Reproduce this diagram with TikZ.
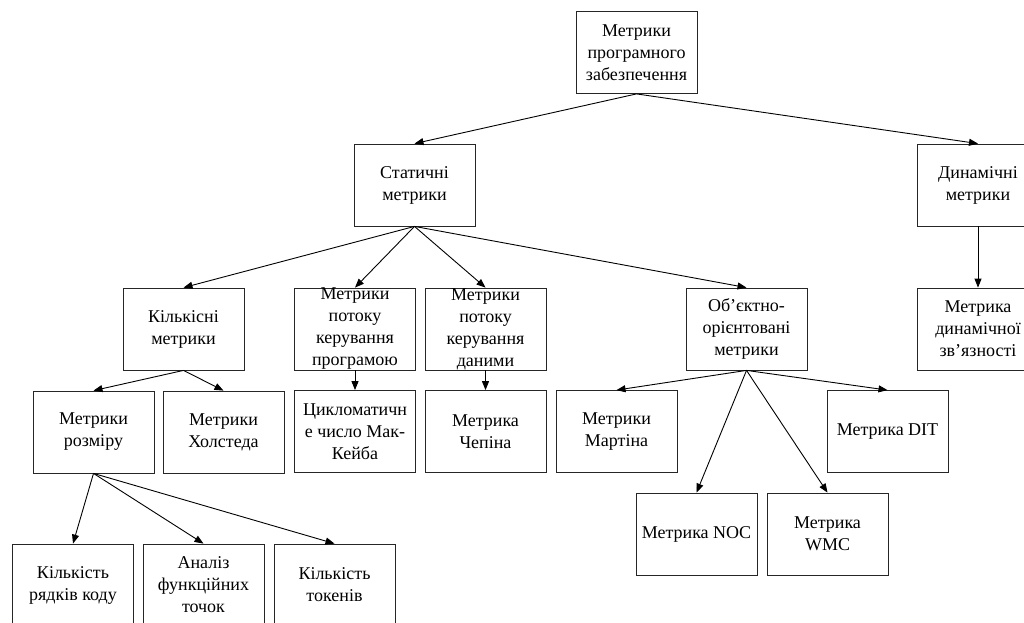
\documentclass[tikz,border=0pt]{standalone}
\usepackage{fontspec}
\setmainfont{Liberation Serif}
\usetikzlibrary{arrows.meta}
\begin{document}
\begin{tikzpicture}[x=1pt,y=-1pt,
  box/.style={draw=black!85,line width=0.8pt,rectangle,minimum width=121pt,minimum height=82pt,inner sep=0pt,align=center,font=\fontsize{18}{22}\selectfont},
  conn/.style={line width=0.9pt,-{Triangle[length=9pt,width=7pt]}}]
\useasboundingbox (0,0) rectangle (1024,622);
\fill[white] (0,0) rectangle (1024,622);
\node[box] (top) at (636.5,52.5) {Метрики\\програмного\\забезпечення};
\node[box] (stat) at (414.5,185) {Статичні\\метрики};
\node[box] (dyn) at (978,185) {Динамічні\\метрики};
\node[box] (kilk) at (183.5,329) {Кількісні\\метрики};
\node[box] (prog) at (355,329) {Метрики\\потоку\\керування\\програмою};
\node[box] (dani) at (485.5,329) {Метрики\\потоку\\керування\\даними};
\node[box] (oo) at (746.5,329) {Об’єктно-\\орієнтовані\\метрики};
\node[box] (dynz) at (978,329) {Метрика\\динамічної\\зв’язності};
\node[box] (rozm) at (93.5,432) {Метрики\\розміру};
\node[box] (hols) at (223.5,432) {Метрики\\Холстеда};
\node[box] (cycl) at (355,431.5) {Цикломатичн\\е число Мак-\\Кейба};
\node[box] (chep) at (485.5,431.5) {Метрика\\Чепіна};
\node[box] (mart) at (616.5,431.5) {Метрики\\Мартіна};
\node[box] (dit) at (887.5,431.5) {Метрика DIT};
\node[box] (noc) at (696.5,534) {Метрика NOC};
\node[box] (wmc) at (827.5,534) {Метрика\\WMC};
\node[box] (rows) at (73,585) {Кількість\\рядків коду};
\node[box] (anal) at (203.5,585) {Аналіз\\функційних\\точок};
\node[box] (tok) at (334.5,585) {Кількість\\токенів};
\draw[conn] (top.south) -- (stat.north);
\draw[conn] (top.south) -- (dyn.north);
\draw[conn] (stat.south) -- (kilk.north);
\draw[conn] (stat.south) -- (prog.north);
\draw[conn] (stat.south) -- (dani.north);
\draw[conn] (stat.south) -- (oo.north);
\draw[conn] (dyn.south) -- (dynz.north);
\draw[conn] (kilk.south) -- (rozm.north);
\draw[conn] (kilk.south) -- (hols.north);
\draw[conn] (prog.south) -- (cycl.north);
\draw[conn] (dani.south) -- (chep.north);
\draw[conn] (oo.south) -- (mart.north);
\draw[conn] (oo.south) -- (noc.north);
\draw[conn] (oo.south) -- (wmc.north);
\draw[conn] (oo.south) -- (dit.north);
\draw[conn] (rozm.south) -- (rows.north);
\draw[conn] (rozm.south) -- (anal.north);
\draw[conn] (rozm.south) -- (tok.north);
\end{tikzpicture}
\end{document}
